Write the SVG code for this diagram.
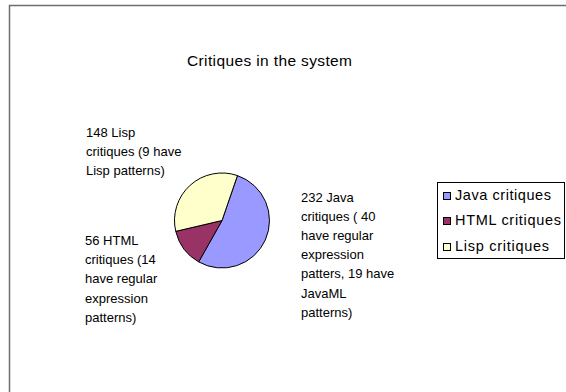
<svg xmlns="http://www.w3.org/2000/svg" width="566" height="392" viewBox="0 0 566 392">
  <style>
    text { font-family: "Liberation Sans", Arial, sans-serif; fill: #000; }
    .lbl { font-size: 13px; }
    .title { font-size: 15.5px; }
    .leg { font-size: 14.5px; }
    .slice { stroke: #000; stroke-width: 1; }
    .sw { stroke: #000; stroke-width: 1; }
  </style>
  <!-- chart area -->
  <rect x="0" y="0" width="566" height="392" fill="#fff"/>
  <rect x="9.5" y="5.5" width="600" height="400" fill="#fff" stroke="#6e6e6e" stroke-width="1.5"/>

  <g id="title">
    <text class="title" x="187" y="66" textLength="165" lengthAdjust="spacing">Critiques in the system</text>
  </g>

  <!-- pie: centre (222,220.5), r 47.5; Java 19°→210.6°, HTML →256.8°, Lisp →379° (clockwise from top) -->
  <g id="pie">
    <g id="slice-java">
      <path class="slice" fill="#9999ff" d="M222,220.5 L237.46,175.59 A47.5,47.5 0 1 1 198.7,261.9 Z"/>
    </g>
    <g id="slice-html">
      <path class="slice" fill="#993366" d="M222,220.5 L198.7,261.9 A47.5,47.5 0 0 1 175.76,231.35 Z"/>
    </g>
    <g id="slice-lisp">
      <path class="slice" fill="#ffffcc" d="M222,220.5 L175.76,231.35 A47.5,47.5 0 0 1 237.46,175.59 Z"/>
    </g>
  </g>

  <g id="label-lisp">
    <text class="lbl" x="86" y="137">148 Lisp</text>
    <text class="lbl" x="86" y="156.2">critiques (9 have</text>
    <text class="lbl" x="86" y="175.4">Lisp patterns)</text>
  </g>

  <g id="label-html">
    <text class="lbl" x="85" y="245">56 HTML</text>
    <text class="lbl" x="85" y="264.2">critiques (14</text>
    <text class="lbl" x="85" y="283.4">have regular</text>
    <text class="lbl" x="85" y="302.6">expression</text>
    <text class="lbl" x="85" y="321.8">patterns)</text>
  </g>

  <g id="label-java">
    <text class="lbl" x="301" y="201.5">232 Java</text>
    <text class="lbl" x="301" y="220.7">critiques ( 40</text>
    <text class="lbl" x="301" y="239.9">have regular</text>
    <text class="lbl" x="301" y="259.1">expression</text>
    <text class="lbl" x="301" y="278.3">patters, 19 have</text>
    <text class="lbl" x="301" y="297.5">JavaML</text>
    <text class="lbl" x="301" y="316.7">patterns)</text>
  </g>

  <g id="legend">
    <rect x="437.5" y="182.5" width="127" height="76" fill="#fff" stroke="#000" stroke-width="1"/>
    <rect class="sw" x="443.5" y="192.5" width="7" height="7" fill="#9999ff"/>
    <text class="leg" x="455" y="200" textLength="96" lengthAdjust="spacing">Java critiques</text>
    <rect class="sw" x="443.5" y="217.5" width="7" height="7" fill="#993366"/>
    <text class="leg" x="455" y="225" textLength="106" lengthAdjust="spacing">HTML critiques</text>
    <rect class="sw" x="443.5" y="243.5" width="7" height="7" fill="#ffffcc"/>
    <text class="leg" x="455" y="251" textLength="94" lengthAdjust="spacing">Lisp critiques</text>
  </g>
</svg>
